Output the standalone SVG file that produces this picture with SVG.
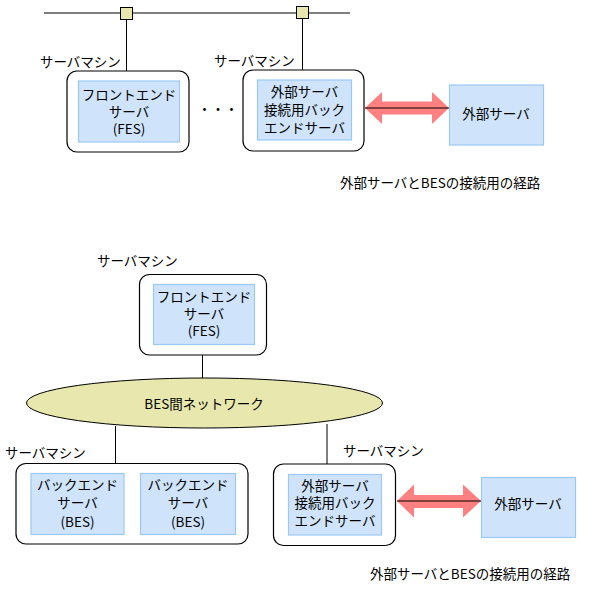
<svg xmlns="http://www.w3.org/2000/svg" width="589" height="589" viewBox="0 0 589 589">
<style>
text{font-family:"Noto Sans CJK JP","Noto Sans",sans-serif;font-size:13.5px;fill:#000;text-anchor:middle;dominant-baseline:central}
.lbl{text-anchor:start}
.mach{fill:#fff;stroke:#000;stroke-width:1.2}
.inner{fill:#CFE4FB;stroke:#9CC8F4;stroke-width:1.2}
.net{fill:#E8E8AE;stroke:#000;stroke-width:1}
.ln{stroke:#000;stroke-width:1;fill:none}
.arr{fill:#FF8080;stroke:none}
</style>
<rect width="589" height="589" fill="#fff"/>
<g id="connectors">
<line class="ln" x1="44" y1="13" x2="350" y2="13"/>
<line class="ln" x1="126.5" y1="13" x2="126.5" y2="71"/>
<line class="ln" x1="302.5" y1="13" x2="302.5" y2="71"/>
<line class="ln" x1="202.5" y1="355" x2="202.5" y2="379"/>
<line class="ln" x1="115.5" y1="426" x2="115.5" y2="463"/>
<line class="ln" x1="327" y1="424" x2="327" y2="464"/>
<polygon class="arr" points="365,108 382,92 382,101.5 432,101.5 432,92 449,108 432,124 432,114.5 382,114.5 382,124"/>
<line class="ln" x1="365" y1="108" x2="449" y2="108"/>
<polygon class="arr" points="397,501 414,484.5 414,495 463,495 463,484.5 481,501 463,517.5 463,508 414,508 414,517.5"/>
<line class="ln" x1="397" y1="501" x2="481" y2="501"/>
</g>
<g id="hub1"><rect class="net" x="120.5" y="7.5" width="12" height="12"/></g>
<g id="hub2"><rect class="net" x="296.5" y="6.5" width="12" height="12"/></g>
<g id="fes-top">
<text class="lbl" x="40" y="61">サーバマシン</text>
<rect class="mach" x="67" y="71" width="122" height="81" rx="10"/>
<rect class="inner" x="78.5" y="81" width="101" height="61"/>
<text x="129" y="94">フロントエンド</text>
<text x="129" y="111">サーバ</text>
<text x="129" y="128">(FES)</text>
</g>
<g id="dots"><text x="218" y="108">・・・</text></g>
<g id="ext-bes-top">
<text class="lbl" x="214" y="60">サーバマシン</text>
<rect class="mach" x="243" y="70" width="121" height="81" rx="10"/>
<rect class="inner" x="257.5" y="80" width="94" height="60"/>
<text x="304.5" y="91">外部サーバ</text>
<text x="304.5" y="109">接続用バック</text>
<text x="304.5" y="127">エンドサーバ</text>
</g>
<g id="ext-top">
<rect class="inner" x="449.5" y="85" width="94" height="60"/>
<text x="496" y="113">外部サーバ</text>
</g>
<g id="caption-top"><text class="lbl" x="340" y="182">外部サーバとBESの接続用の経路</text></g>
<g id="fes-bottom">
<text class="lbl" x="97" y="260">サーバマシン</text>
<rect class="mach" x="139.5" y="274.5" width="127" height="80.5" rx="10"/>
<rect class="inner" x="153.5" y="284.5" width="101" height="60"/>
<text x="204" y="296">フロントエンド</text>
<text x="204" y="313">サーバ</text>
<text x="204" y="330">(FES)</text>
</g>
<g id="network">
<ellipse class="net" cx="204.5" cy="403" rx="178" ry="25"/>
<text x="204" y="403">BES間ネットワーク</text>
</g>
<g id="bes-machine">
<text class="lbl" x="5" y="452">サーバマシン</text>
<rect class="mach" x="16" y="463.5" width="232" height="80.5" rx="10"/>
<rect class="inner" x="31" y="473.5" width="93" height="61"/>
<text x="77.5" y="484">バックエンド</text>
<text x="77.5" y="502">サーバ</text>
<text x="77.5" y="521">(BES)</text>
<rect class="inner" x="140.5" y="473.5" width="95" height="61"/>
<text x="188" y="484">バックエンド</text>
<text x="188" y="502">サーバ</text>
<text x="188" y="521">(BES)</text>
</g>
<g id="ext-bes-bottom">
<text class="lbl" x="343" y="450">サーバマシン</text>
<rect class="mach" x="273.5" y="464" width="122" height="81.5" rx="10"/>
<rect class="inner" x="288.5" y="474.5" width="93" height="60.5"/>
<text x="335" y="485">外部サーバ</text>
<text x="335" y="502">接続用バック</text>
<text x="335" y="520">エンドサーバ</text>
</g>
<g id="ext-bottom">
<rect class="inner" x="481.5" y="477.5" width="94" height="60"/>
<text x="528" y="503">外部サーバ</text>
</g>
<g id="caption-bottom"><text class="lbl" x="370" y="573">外部サーバとBESの接続用の経路</text></g>
</svg>
